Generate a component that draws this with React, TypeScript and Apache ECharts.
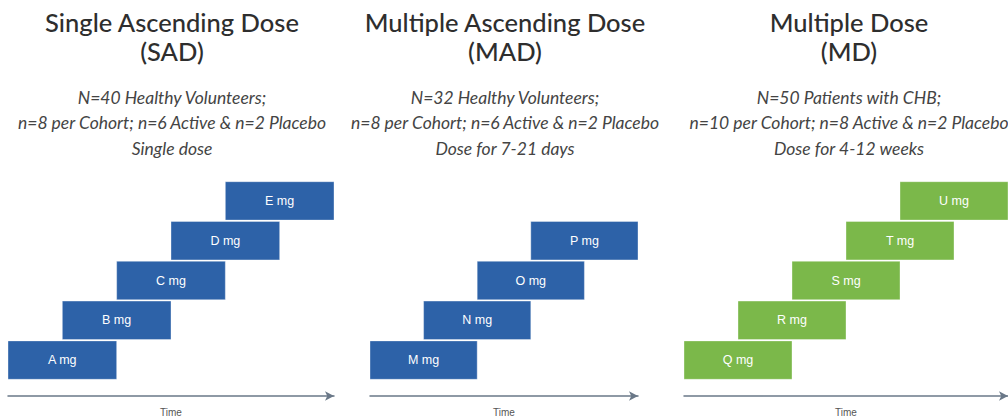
import React, { useEffect, useRef } from "react";
import * as echarts from "echarts";

const levels = ["1", "2", "3", "4", "5"];

const sadDoses = ["A mg", "B mg", "C mg", "D mg", "E mg"];
const sadStart = [0, 1, 2, 3, 4];
const sadEnd = [2, 3, 4, 5, 6];

const madDoses = ["M mg", "N mg", "O mg", "P mg"];
const madStart = [0, 1, 2, 3];
const madEnd = [2, 3, 4, 5];

const mdDoses = ["Q mg", "R mg", "S mg", "T mg", "U mg"];
const mdStart = [0, 1, 2, 3, 4];
const mdEnd = [2, 3, 4, 5, 6];

const titles = [
  ["Single Ascending Dose", "(SAD)"],
  ["Multiple Ascending Dose", "(MAD)"],
  ["Multiple Dose", "(MD)"],
];
const subtitles = [
  ["N=40 Healthy Volunteers;", "n=8 per Cohort; n=6 Active & n=2 Placebo", "Single dose"],
  ["N=32 Healthy Volunteers;", "n=8 per Cohort; n=6 Active & n=2 Placebo", "Dose for 7-21 days"],
  ["N=50 Patients with CHB;", "n=10 per Cohort; n=8 Active & n=2 Placebo", "Dose for 4-12 weeks"],
];
const axisName = "Time";

const BLUE = "#2d62a8";
const GREEN = "#7bb84a";

export default function App() {
  const ref = useRef<HTMLDivElement>(null);
  useEffect(() => {
    if (!ref.current) return;
    const chart = echarts.init(ref.current, null, { renderer: "svg" });

    const panels = [
      { doses: sadDoses, start: sadStart, end: sadEnd, color: BLUE, left: 8, width: 326, max: 6, cx: 172 },
      { doses: madDoses, start: madStart, end: madEnd, color: BLUE, left: 370, width: 268, max: 5, cx: 505 },
      { doses: mdDoses, start: mdStart, end: mdEnd, color: GREEN, left: 684, width: 326, max: 6, cx: 849 },
    ];

    const grids = panels.map((p) => ({ left: p.left, width: p.width, top: 181, height: 202 }));
    const xAxes = panels.map((p, i) => ({
      type: "value",
      gridIndex: i,
      min: 0,
      max: p.max,
      offset: 16,
      axisLine: {
        show: true,
        symbol: ["none", "arrow"],
        symbolSize: [7, 9],
        lineStyle: { color: "#6a7888", width: 1.5 },
      },
      axisTick: { show: false },
      axisLabel: { show: false },
      splitLine: { show: false },
      name: axisName,
      nameLocation: "middle",
      nameGap: 11,
      nameTextStyle: { fontSize: 10, color: "#555", fontFamily: "Liberation Sans" },
    }));
    const yAxes = panels.map((p, i) => ({
      type: "category",
      gridIndex: i,
      data: levels,
      show: false,
    }));

    const series = panels.map((p, i) => ({
      type: "custom",
      xAxisIndex: i,
      yAxisIndex: i,
      data: p.doses.map((d, k) => [k, p.start[k], p.end[k], d]),
      encode: { x: [1, 2], y: 0 },
      renderItem: (params: any, api: any) => {
        const cat = api.value(0);
        const s = api.value(1);
        const e = api.value(2);
        const label = p.doses[params.dataIndex];
        const p0 = api.coord([s, cat]);
        const p1 = api.coord([e, cat]);
        const h = api.size([0, 1])[1] * 0.965;
        return {
          type: "group",
          children: [
            {
              type: "rect",
              shape: { x: p0[0], y: p0[1] - h / 2, width: p1[0] - p0[0], height: h },
              style: { fill: p.color, stroke: "rgba(255,255,255,0.35)", lineWidth: 1 },
            },
            {
              type: "text",
              style: {
                text: label,
                x: (p0[0] + p1[0]) / 2,
                y: p0[1],
                align: "center",
                verticalAlign: "middle",
                fill: "#ffffff",
                font: "12.5px 'Liberation Sans'",
              },
            },
          ],
        };
      },
    }));

    const graphics: any[] = [];
    panels.forEach((p, i) => {
      titles[i].forEach((t, j) => {
        graphics.push({
          type: "text",
          x: p.cx,
          y: 22 + j * 29,
          style: {
            text: t,
            align: "center",
            verticalAlign: "middle",
            fill: "#2e2e2e",
            font: "500 25.5px Lato",
          },
        });
      });
      subtitles[i].forEach((t, j) => {
        graphics.push({
          type: "text",
          x: p.cx,
          y: 97 + j * 25.5,
          style: {
            text: t,
            align: "center",
            verticalAlign: "middle",
            fill: "#444",
            font: "italic 17.5px Lato",
          },
        });
      });
    });

    chart.setOption({
      animation: false,
      backgroundColor: "#ffffff",
      grid: grids,
      xAxis: xAxes,
      yAxis: yAxes,
      series,
      graphic: graphics,
    });
    return () => chart.dispose();
  }, []);
  return (
    <div
      ref={ref}
      style={{ position: "fixed", left: 0, top: 0, width: 1008, height: 418 }}
    />
  );
}
